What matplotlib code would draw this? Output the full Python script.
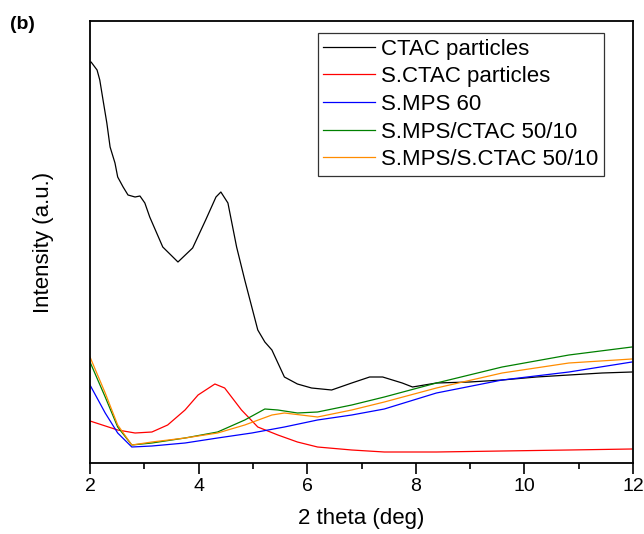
import matplotlib
matplotlib.use("Agg")
import matplotlib.pyplot as plt
from matplotlib.ticker import MultipleLocator

plt.rcParams["font.family"] = ["Liberation Sans", "DejaVu Sans"]

# 2 theta (deg) / intensity (a.u., arbitrary)
ctac_x = [2.0, 2.02, 2.13, 2.18, 2.24, 2.31, 2.37, 2.46, 2.51, 2.61, 2.70, 2.83, 2.92, 3.01,
          3.10, 3.34, 3.62, 3.89, 4.13, 4.32, 4.41, 4.54, 4.70, 4.85, 5.09, 5.22, 5.35, 5.58,
          5.82, 6.08, 6.45, 6.82, 7.15, 7.39, 7.75, 7.94, 8.38, 8.99, 9.59, 10.22, 10.82,
          11.43, 11.98]
ctac_y = [398, 398, 390, 380, 360, 337, 313, 297, 283, 273, 265, 263, 264, 257,
          243, 213, 198, 212, 240, 263, 268, 257, 213, 180, 130, 118, 110, 83,
          76, 72, 70, 77, 83, 83, 77, 73, 77, 78, 80, 83, 85, 87, 88]

sctac_x = [2.0, 2.51, 2.83, 3.14, 3.43, 3.75, 3.99, 4.30, 4.48, 4.79, 5.09, 5.46, 5.82,
           6.19, 6.82, 7.42, 8.38, 9.59, 10.82, 11.98]
sctac_y = [39, 30, 27, 28, 35, 50, 65, 76, 72, 50, 33, 25, 18,
           13, 10, 8, 8, 9, 10, 11]

smps_x = [2.0, 2.28, 2.51, 2.77, 3.14, 3.75, 4.35, 4.98, 5.58, 6.19, 6.82, 7.42, 8.38,
          9.59, 10.82, 11.98]
smps_y = [75, 47, 27, 13, 14, 17, 22, 27, 33, 40, 45, 51, 67, 80, 88, 98]

mix_x = [2.0, 2.28, 2.51, 2.77, 3.14, 3.75, 4.35, 4.85, 5.22, 5.46, 5.82, 6.19, 6.82,
         7.42, 8.38, 9.59, 10.82, 11.98]
mix_y = [98, 63, 33, 15, 17, 22, 28, 40, 51, 50, 47, 48, 55, 63, 77, 93, 105, 113]

smix_x = [2.0, 2.28, 2.51, 2.77, 3.14, 3.75, 4.35, 4.85, 5.35, 5.58, 6.19, 6.82,
          7.42, 8.38, 9.59, 10.82, 11.98]
smix_y = [103, 67, 35, 15, 18, 22, 27, 35, 45, 47, 43, 50, 58, 72, 87, 97, 101]

series = [
    ("CTAC particles", ctac_x, ctac_y, "black"),
    ("S.CTAC particles", sctac_x, sctac_y, "red"),
    ("S.MPS 60", smps_x, smps_y, "blue"),
    ("S.MPS/CTAC 50/10", mix_x, mix_y, "green"),
    ("S.MPS/S.CTAC 50/10", smix_x, smix_y, "#ff8c00"),
]

fig = plt.figure(figsize=(6.44, 5.34), dpi=100)
# axes box: x 90..633 px, y 21..463 px
ax = fig.add_axes([90 / 644, (534 - 463) / 534, 543 / 644, 442 / 534])

for label, x, y, c in series:
    ax.plot(x, y, color=c, lw=0.9, label=label)

ax.set_xlim(2, 12)
ax.set_ylim(-3, 439)
ax.xaxis.set_major_locator(MultipleLocator(2))
ax.xaxis.set_minor_locator(MultipleLocator(1))
ax.set_yticks([])
ax.tick_params(axis="x", which="major", length=8, width=1.2, labelsize=14,
               direction="out", pad=3)
ax.tick_params(axis="x", which="minor", length=4, width=1.2, direction="out")
for s in ax.spines.values():
    s.set_linewidth(1.3)

ax.set_xlabel("2 theta (deg)", fontsize=16, labelpad=9)
ax.set_ylabel("Intensity (a.u.)", fontsize=16, labelpad=26)

leg = ax.legend(loc="upper right", fontsize=16, frameon=True, fancybox=False,
                edgecolor="black", handlelength=2.3, handletextpad=0.3,
                labelspacing=0.3, borderpad=0.25, borderaxespad=0,
                bbox_to_anchor=(0.9466, 0.9729))
leg.get_frame().set_linewidth(0.9)

fig.text(0.015, 0.945, "(b)", fontsize=14, fontweight="bold")

fig.savefig("out.png", dpi=100)
